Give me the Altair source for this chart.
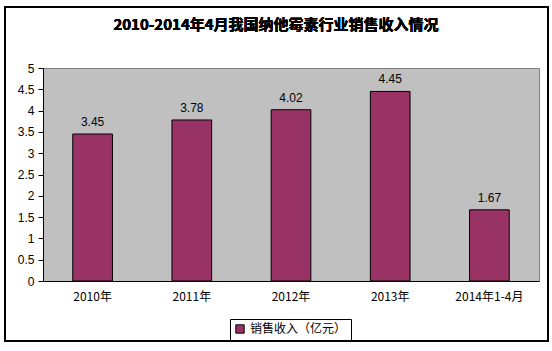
import altair as alt
import pandas as pd

categories = ["2010年", "2011年", "2012年", "2013年", "2014年1-4月"]
values = [3.45, 3.78, 4.02, 4.45, 1.67]
series_name = "销售收入（亿元）"
y_ticks = [0, 0.5, 1, 1.5, 2, 2.5, 3, 3.5, 4, 4.5, 5]
title_text = "2010-2014年4月我国纳他霉素行业销售收入情况"

df = pd.DataFrame({"cat": categories, "val": values, "series": [series_name] * len(values),
                   "lab": [f"{v:.2f}" for v in values]})

label_expr = "datum.value == 0 ? '0' : format(datum.value, '.1~f')"


def x_enc():
    return alt.X("cat:N", sort=categories, title=None,
                 scale=alt.Scale(paddingInner=0.6, paddingOuter=0.3),
                 axis=alt.Axis(labelAngle=0, ticks=False, domain=True, domainColor="black",
                               labelFont="Noto Sans CJK SC", labelFontSize=12, labelColor="black",
                               labelPadding=10))


def y_enc():
    return alt.Y("val:Q", title=None, scale=alt.Scale(domain=[0, 5], nice=False),
                 axis=alt.Axis(values=y_ticks, labelExpr=label_expr, grid=False, tickSize=5,
                               tickColor="black", domainColor="black", labelPadding=4,
                               labelOverlap=False,
                               labelFont="Liberation Sans", labelFontSize=12, labelColor="black"))


bars = alt.Chart(df).mark_bar(stroke="black", strokeWidth=1).encode(
    x=x_enc(), y=y_enc(),
    color=alt.Color("series:N", scale=alt.Scale(range=["#993366"]),
                    legend=alt.Legend(title=None, orient="none", legendX=187, legendY=251,
                                      symbolType="square", symbolSize=70, symbolStrokeColor="black",
                                      symbolStrokeWidth=1, labelFont="Noto Sans CJK SC",
                                      labelFontSize=12, labelColor="black", strokeColor="black",
                                      padding=4, fillColor="white"))
)

texts = alt.Chart(df).mark_text(baseline="middle", dy=-12, font="Liberation Sans", fontSize=12,
                                color="black").encode(
    x=x_enc(), y=y_enc(), text="lab:N")

frame = alt.Chart(df).mark_rect(fill=None, stroke="black", strokeWidth=2).encode(
    x=alt.value(-38), x2=alt.value(505), y=alt.value(-61), y2=alt.value(273))

title = alt.Chart(df).mark_text(font="Noto Sans CJK SC", fontSize=15, fontWeight="bold",
                                color="black", align="center", baseline="middle").encode(
    x=alt.value(233), y=alt.value(-43), text=alt.value(title_text))

chart = alt.layer(bars, texts, frame, title).properties(
    width=496, height=213,
    autosize=alt.AutoSizeParams(type="none"),
    padding={"left": 43, "top": 68, "right": 13, "bottom": 70},
).configure(background="white").configure_view(fill="#C0C0C0", stroke="#808080", strokeWidth=1)

chart.save("out.html", embed_options={"renderer": "svg", "actions": False})
